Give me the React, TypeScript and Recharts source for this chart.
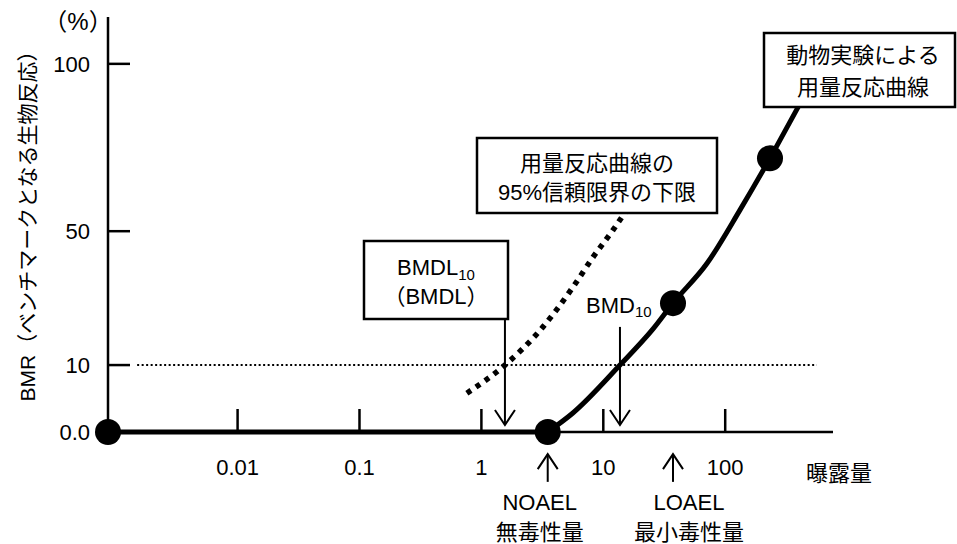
import { ComposedChart, Line, ReferenceLine, Scatter, XAxis, YAxis } from 'recharts';

const FONT = '"Liberation Sans", "Noto Sans CJK JP", sans-serif';

// axis ticks
const doseTicks = [0.01, 0.1, 1, 10, 100];
const responseTicks = [0, 10, 50, 100];
const responseTickLabels = ['0.0', '10', '50', '100'];

// dose-response curve from the animal experiment
const curveDose = [3.5, 5.6, 13.7, 25.6, 37.3, 71, 132, 233, 395, 619];
const curveResp = [0, 2.8, 10, 20.8, 28.5, 40.4, 56.3, 71.8, 87, 100];

// lower 95% confidence bound of the curve
const lowerDose = [0.76, 1.56, 3.03, 5.64, 8.22, 12.0, 16.5];
const lowerResp = [5.8, 10, 20.4, 33.3, 42.2, 50.3, 57.8];

// observed dose groups (first = control, dose 0)
const markerDose = [0, 3.5, 37.3, 233];
const markerResp = [0, 0, 28.5, 71.8];

const BMR = 10;
const NOAEL = 3.5;
const LOAEL = 37.3;
const BMD = 13.7;
const BMDL = 1.56;

// log axis range (dose 0 sits on the left edge)
const X_MIN = 0.000865;
const X_MAX = 766;
const BMR_LINE_FROM = 0.0015;
const BMR_LINE_TO = 564;

// the response axis is stretched below 10%
const toDisplay = (r: number) => (r <= 10 ? r * 2 : r + 10);
const toAxisDose = (d: number) => (d <= 0 ? X_MIN : d);

const zip = (xs: number[], ys: number[]) => xs.map((x, i) => ({ x: toAxisDose(x), y: toDisplay(ys[i]) }));

const curveData = zip(curveDose, curveResp);
const lowerData = zip(lowerDose, lowerResp);
const markerData = zip(markerDose, markerResp);
const baselineData = [
  { x: X_MIN, y: 0 },
  { x: NOAEL, y: 0 },
];
const displayTicks = responseTicks.map(toDisplay);

const YTick = (props: any) => {
  const { x, y, payload } = props;
  const label = responseTickLabels[displayTicks.indexOf(payload.value)];
  return (
    <g>
      {payload.value > 0 && <line x1={x} y1={y} x2={x + 22} y2={y} stroke="#000" strokeWidth={2.5} />}
      <text x={x - 18} y={y} dy="0.36em" textAnchor="end" fontSize={22} fontFamily={FONT} fill="#000">
        {label}
      </text>
    </g>
  );
};

const XTick = (props: any) => {
  const { x, y, payload } = props;
  return (
    <g>
      <line x1={x} y1={y} x2={x} y2={y - 23} stroke="#000" strokeWidth={2.5} />
      <text x={x} y={y + 35} dy="0.36em" textAnchor="middle" fontSize={22} fontFamily={FONT} fill="#000">
        {payload.value}
      </text>
    </g>
  );
};

const arrowShape = (dir: 'up' | 'down', lines: string[] = [], dx = 0) => (p: any) => {
  const x = p.x1;
  const top = Math.min(p.y1, p.y2);
  const bottom = Math.max(p.y1, p.y2);
  const tip = dir === 'down' ? bottom : top;
  const s = dir === 'down' ? -1 : 1;
  return (
    <g>
      <line x1={x} y1={top} x2={x} y2={bottom} stroke="#000" strokeWidth={2} />
      <polyline
        points={`${x - 10},${tip + s * 15} ${x},${tip} ${x + 10},${tip + s * 15}`}
        fill="none"
        stroke="#000"
        strokeWidth={2}
      />
      {lines.map((t, i) => (
        <text key={t} x={x + dx} y={bottom + 28 + i * 30} textAnchor="middle" fontSize={22} fontFamily={FONT} fill="#000">
          {t}
        </text>
      ))}
    </g>
  );
};

const Dot = (p: any) => <circle cx={p.cx} cy={p.cy} r={13} fill="#000" />;

const txt = { fontSize: 22, fontFamily: FONT, fill: '#000' };

export default function App() {
  return (
    <div style={{ position: 'absolute', left: 0, top: 0, width: 957, height: 544, background: '#fff' }}>
      <ComposedChart width={957} height={544} margin={{ top: 17, right: 124, bottom: 72, left: 48 }}>
        <XAxis
          dataKey="x"
          type="number"
          scale="log"
          domain={[X_MIN, X_MAX]}
          ticks={doseTicks}
          tick={<XTick />}
          tickLine={false}
          tickSize={0}
          tickMargin={0}
          height={40}
          axisLine={{ stroke: '#000', strokeWidth: 2.5 }}
        />
        <YAxis
          dataKey="y"
          type="number"
          domain={[0, 124]}
          ticks={displayTicks}
          tick={<YTick />}
          tickLine={false}
          tickSize={0}
          tickMargin={0}
          width={60}
          axisLine={{ stroke: '#000', strokeWidth: 2.5 }}
        />
        <ReferenceLine
          segment={[
            { x: BMR_LINE_FROM, y: toDisplay(BMR) },
            { x: BMR_LINE_TO, y: toDisplay(BMR) },
          ]}
          stroke="#000"
          strokeWidth={2}
          strokeDasharray="2 2.5"
          ifOverflow="visible"
        />
        <Line data={baselineData} dataKey="y" type="linear" stroke="#000" strokeWidth={5} dot={false} activeDot={false} isAnimationActive={false} />
        <Line
          data={lowerData}
          dataKey="y"
          type="monotone"
          stroke="#000"
          strokeWidth={5.5}
          strokeDasharray="5 6"
          dot={false}
          activeDot={false}
          isAnimationActive={false}
        />
        <Line data={curveData} dataKey="y" type="monotone" stroke="#000" strokeWidth={5} dot={false} activeDot={false} isAnimationActive={false} />
        <ReferenceLine
          segment={[
            { x: BMDL, y: 33.8 },
            { x: BMDL, y: 2.1 },
          ]}
          ifOverflow="visible"
          shape={arrowShape('down')}
        />
        <ReferenceLine
          segment={[
            { x: BMD, y: 31.4 },
            { x: BMD, y: 2.1 },
          ]}
          ifOverflow="visible"
          shape={arrowShape('down')}
        />
        <ReferenceLine
          segment={[
            { x: NOAEL, y: -6.6 },
            { x: NOAEL, y: -14.9 },
          ]}
          ifOverflow="visible"
          shape={arrowShape('up', ['NOAEL', '無毒性量'], -8)}
        />
        <ReferenceLine
          segment={[
            { x: LOAEL, y: -6.6 },
            { x: LOAEL, y: -14.9 },
          ]}
          ifOverflow="visible"
          shape={arrowShape('up', ['LOAEL', '最小毒性量'], 16)}
        />
        <Scatter data={markerData} shape={<Dot />} isAnimationActive={false} />
      </ComposedChart>

      <svg width={957} height={544} style={{ position: 'absolute', left: 0, top: 0, pointerEvents: 'none' }}>
        <text x={78} y={21} dy="0.36em" textAnchor="middle" fontSize={24} fontFamily={FONT} fill="#000">
          （%）
        </text>
        <text x={27} y={221} dy="0.36em" transform="rotate(-90 27 221)" textAnchor="middle" fontSize={21} fontFamily={FONT} fill="#000">
          BMR（ベンチマークとなる生物反応）
        </text>
        <text x={839} y={481} textAnchor="middle" {...txt}>
          曝露量
        </text>

        <text x={586} y={313} {...txt}>
          BMD<tspan fontSize={15} dy={4}>10</tspan>
        </text>

        <rect x={364} y={241} width={144} height={78} fill="#fff" stroke="#000" strokeWidth={2.5} />
        <text x={436} y={275} textAnchor="middle" {...txt}>
          BMDL<tspan fontSize={15} dy={5}>10</tspan>
        </text>
        <text x={436} y={304} textAnchor="middle" {...txt}>
          （BMDL）
        </text>

        <rect x={477} y={138} width={240} height={75} fill="#fff" stroke="#000" strokeWidth={2.5} />
        <text x={597} y={171} textAnchor="middle" {...txt}>
          用量反応曲線の
        </text>
        <text x={597} y={200} textAnchor="middle" {...txt}>
          95%信頼限界の下限
        </text>

        <rect x={764} y={33} width={191} height={74} fill="#fff" stroke="#000" strokeWidth={2.5} />
        <text x={863} y={62.5} textAnchor="middle" {...txt}>
          動物実験による
        </text>
        <text x={863} y={94.5} textAnchor="middle" {...txt}>
          用量反応曲線
        </text>
      </svg>
    </div>
  );
}
